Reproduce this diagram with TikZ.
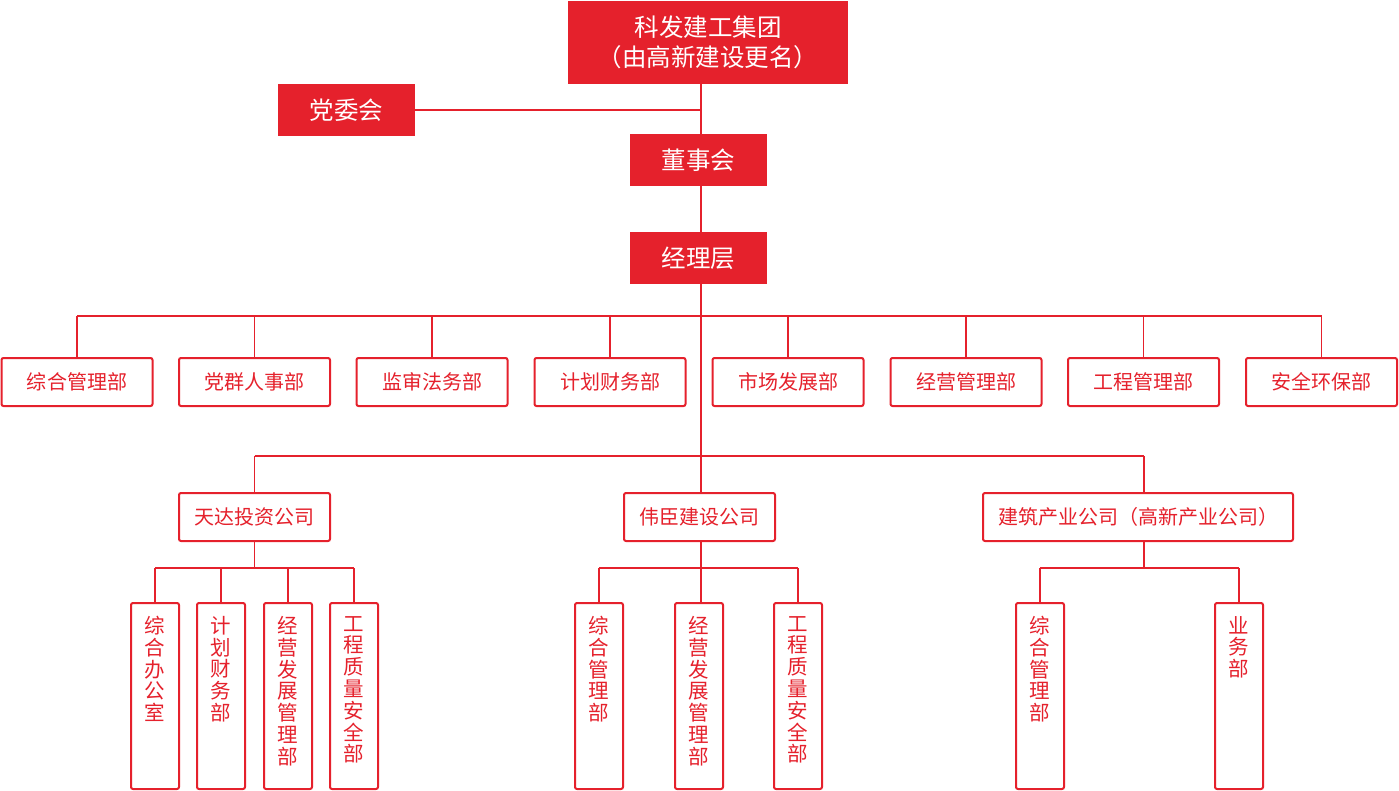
\documentclass[tikz,border=0pt]{standalone}
\usepackage{fontspec}
\newfontfamily\cjk{Noto Sans CJK SC}
\definecolor{kred}{HTML}{E5212C}
\begin{document}
\begin{tikzpicture}[x=1pt,y=-1pt,
  filledbox/.style={fill=kred, text=white, draw=none, inner sep=0pt, minimum width=137pt, minimum height=52pt, font=\cjk\fontsize{24.5}{29.5}\selectfont},
  deptbox/.style={draw=kred, line width=2pt, rounded corners=2pt, fill=white, text=kred, inner sep=0pt, minimum width=151pt, minimum height=48pt, font=\cjk\fontsize{20}{24}\selectfont},
  subbox/.style={draw=kred, line width=2pt, rounded corners=2pt, fill=white, inner sep=0pt, minimum width=48pt, minimum height=186pt},
  vtxt/.style={text=kred, inner sep=0pt, anchor=north, align=center, font=\cjk\fontsize{20.5}{21.8}\selectfont},
  conn/.style={draw=kred, line width=1.7pt}]
\useasboundingbox (0,0) rectangle (1399,791);
% top levels
\node[filledbox, minimum width=280pt, minimum height=83pt, align=center] (top) at (708,42.5) {科发建工集团\\（由高新建设更名）};
\node[filledbox] (dwh) at (346.5,110) {党委会};
\node[filledbox] (dsh) at (698.5,160) {董事会};
\node[filledbox] (jl) at (698.5,258) {经理层};
\coordinate (trunk) at (701,0);
\coordinate (bus1) at (0,316);
\coordinate (bus2) at (0,456);
\coordinate (bus3) at (0,568);
% departments
\foreach \i/\x/\t in {1/77/综合管理部,2/254.5/党群人事部,3/432/监审法务部,4/610/计划财务部,5/788/市场发展部,6/966/经营管理部,7/1143.5/工程管理部,8/1321.5/安全环保部}{
  \node[deptbox] (d\i) at (\x,382) {\t};
}
% companies
\node[deptbox] (td) at (254.5,517) {天达投资公司};
\node[deptbox] (wc) at (699.5,517) {伟臣建设公司};
\node[deptbox, minimum width=310pt] (jz) at (1138,517) {建筑产业公司（高新产业公司）};
\coordinate (jzx) at (1144,0);
% sub departments
\foreach \n/\x/\t in {a1/155/综\\合\\办\\公\\室, a2/221/计\\划\\财\\务\\部, a3/288/经\\营\\发\\展\\管\\理\\部, a4/354/工\\程\\质\\量\\安\\全\\部,
  b1/599/综\\合\\管\\理\\部, b2/699/经\\营\\发\\展\\管\\理\\部, b3/798/工\\程\\质\\量\\安\\全\\部,
  c1/1040/综\\合\\管\\理\\部, c2/1239/业\\务\\部}{
  \node[subbox] (\n) at (\x,696) {};
  \node[vtxt] (\n t) at ([yshift=-14pt]\n.north) {\t};
}
% connectors: trunk
\draw[conn] (top.south -| trunk) -- (dsh.north -| trunk);
\draw[conn] (dwh.east) -- (dwh.east -| trunk);
\draw[conn] (dsh.south -| trunk) -- (jl.north -| trunk);
\draw[conn] (jl.south -| trunk) -- (wc.north -| trunk);
% departments bus
\draw[conn] (bus1 -| d1) -- (bus1 -| d8);
\foreach \i in {1,...,8}{ \draw[conn] (bus1 -| d\i) -- (d\i.north); }
% companies bus
\draw[conn] (bus2 -| td) -- (bus2 -| jzx);
\draw[conn] (bus2 -| td) -- (td.north);
\draw[conn] (bus2 -| jzx) -- (jz.north -| jzx);
% 天达 children
\draw[conn] (td.south) -- (bus3 -| td);
\draw[conn] (bus3 -| a1) -- (bus3 -| a4);
\foreach \n in {a1,a2,a3,a4}{ \draw[conn] (bus3 -| \n) -- (\n.north); }
% 伟臣 children
\draw[conn] (wc.south -| trunk) -- (bus3 -| trunk);
\draw[conn] (bus3 -| b1) -- (bus3 -| b3);
\foreach \n in {b1,b3}{ \draw[conn] (bus3 -| \n) -- (\n.north); }
\draw[conn] (bus3 -| trunk) -- (b2.north -| trunk);
% 建筑 children
\draw[conn] (jz.south -| jzx) -- (bus3 -| jzx);
\draw[conn] (bus3 -| c1) -- (bus3 -| c2);
\foreach \n in {c1,c2}{ \draw[conn] (bus3 -| \n) -- (\n.north); }
\end{tikzpicture}
\end{document}
